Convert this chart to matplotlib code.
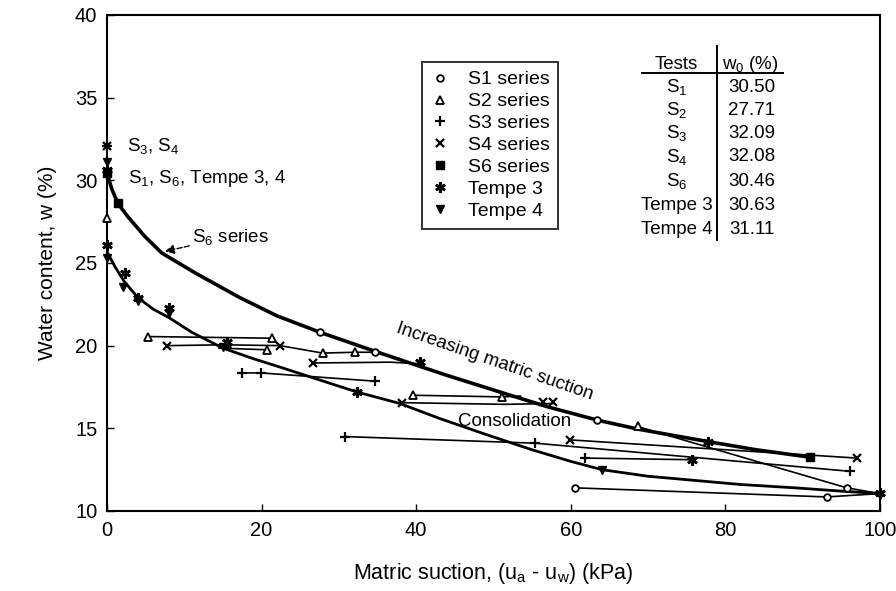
import matplotlib.pyplot as plt
from matplotlib.lines import Line2D

plt.rcParams['font.family'] = ['Liberation Sans', 'DejaVu Sans']
plt.rcParams['mathtext.fontset'] = 'custom'
plt.rcParams['mathtext.rm'] = 'Liberation Sans'
plt.rcParams['mathtext.it'] = 'Liberation Sans:italic'

# S6 drying curve (upper, heavy line)
s6_curve_x = [0, 0.6, 1.4, 2.7, 4.9, 7.1, 11.4, 17.2, 22, 27.6, 34.4, 37.9, 44, 50.8, 57, 63.4, 68.7, 77.7, 84, 91]
s6_curve_y = [30.46, 29.5, 28.6, 27.8, 26.6, 25.6, 24.4, 22.9, 21.8, 20.8, 19.7, 19.15, 18.2, 17.2, 16.3, 15.5, 14.95, 14.2, 13.7, 13.25]

# lower curve through the Tempe cell points
low_curve_x = [0, 1, 2.2, 4, 6, 8, 11, 15, 19, 22.4, 27, 32.3, 37.9, 43, 49.2, 55, 60, 64, 70, 76, 82, 89, 95, 100]
low_curve_y = [25.7, 24.8, 23.9, 22.9, 22.2, 21.7, 20.8, 19.85, 19.2, 18.7, 18.0, 17.2, 16.5, 15.6, 14.6, 13.7, 13.0, 12.5, 12.1, 11.85, 11.6, 11.4, 11.2, 11.05]

# consolidation paths (thin connecting lines)
paths = [
    ([5.3, 21.3, 22.4], [20.55, 20.45, 20.0]),
    ([7.8, 15, 22.4, 27.9, 32.1, 34.7, 38], [20.0, 20.05, 20.0, 19.55, 19.6, 19.6, 19.2]),
    ([14.5, 20.7], [19.85, 19.75]),
    ([26.6, 36.6, 40.5], [18.95, 19.0, 18.9]),
    ([17.5, 19.9, 34.7], [18.35, 18.35, 17.85]),
    ([39.6, 51.1, 53.5], [17.0, 16.9, 16.95]),
    ([38.2, 51.5, 57.7], [16.55, 16.45, 16.5]),
    ([30.8, 55.4, 96.1], [14.5, 14.1, 12.4]),
    ([59.9, 97], [14.3, 13.2]),
    ([61.8, 75.7], [13.2, 13.1]),
    ([60.5, 93.1, 100], [11.4, 10.85, 11.05]),
    ([68.7, 95.7, 100], [15.1, 11.4, 11.05]),
]

# measured points per series
s1_x = [0, 27.6, 34.7, 63.4, 60.5, 93.1, 95.7]
s1_y = [30.5, 20.8, 19.6, 15.5, 11.4, 10.85, 11.4]
s2_x = [0, 5.3, 21.3, 15.5, 20.7, 27.9, 32.1, 39.6, 51.1, 68.7]
s2_y = [27.71, 20.55, 20.45, 20.1, 19.75, 19.55, 19.6, 17.0, 16.9, 15.15]
s3_x = [0, 17.5, 19.9, 34.7, 30.8, 55.4, 96.1, 61.8]
s3_y = [32.09, 18.35, 18.35, 17.85, 14.5, 14.1, 12.4, 13.2]
s4_x = [0, 7.8, 22.4, 26.6, 38.2, 56.4, 57.7, 59.9, 97]
s4_y = [32.08, 20.0, 20.0, 18.95, 16.55, 16.6, 16.6, 14.3, 13.2]
s6_x = [0, 1.4, 91]
s6_y = [30.46, 28.6, 13.25]
t3_x = [0, 0, 2.3, 4.0, 8.0, 15.5, 32.3, 40.5, 75.7, 77.7, 100]
t3_y = [30.63, 26.1, 24.4, 22.9, 22.3, 20.25, 17.2, 19.0, 13.1, 14.2, 11.1]
t4_x = [0, 0, 2.1, 4.0, 8.0, 15.0, 64, 100]
t4_y = [31.11, 25.3, 23.55, 22.7, 22.0, 19.9, 12.45, 10.95]

table_tests = [r'S$_1$', r'S$_2$', r'S$_3$', r'S$_4$', r'S$_6$', 'Tempe 3', 'Tempe 4']
table_w0 = ['30.50', '27.71', '32.09', '32.08', '30.46', '30.63', '31.11']

fig = plt.figure(figsize=(8.96, 5.91), dpi=100)
ax = fig.add_axes([0.1194, 0.1354, 0.8627, 0.8393])

ax.plot(s6_curve_x, s6_curve_y, color='black', lw=2.6, zorder=3)
ax.plot(low_curve_x, low_curve_y, color='black', lw=2.0, zorder=3)
for px, py in paths:
    ax.plot(px, py, color='black', lw=1.2, zorder=2)

styles = [
    ('S1 series', s1_x, s1_y, dict(marker='o', ms=4.8, mfc='white', mew=1.3)),
    ('S2 series', s2_x, s2_y, dict(marker='^', ms=5.3, mfc='white', mew=1.3)),
    ('S3 series', s3_x, s3_y, dict(marker='+', ms=7.5, mew=1.6)),
    ('S4 series', s4_x, s4_y, dict(marker='x', ms=5.8, mew=1.6)),
    ('S6 series', s6_x, s6_y, dict(marker='s', ms=6.3, mfc='black')),
    ('Tempe 3', t3_x, t3_y, dict(marker=(6, 2, 0), ms=7.5, mew=1.9)),
    ('Tempe 4', t4_x, t4_y, dict(marker='v', ms=5.8, mfc='black')),
]
handles = []
for label, xs, ys, st in styles:
    ax.plot(xs, ys, ls='none', color='black', mec='black', zorder=4, clip_on=False, **st)
    handles.append(Line2D([], [], ls='none', color='black', mec='black', label=label, **st))

leg = ax.legend(handles=handles, loc='upper left', bbox_to_anchor=(0.4075, 0.905),
                borderaxespad=0, fontsize=14, frameon=True, fancybox=False,
                handlelength=1.0, handletextpad=0.9, labelspacing=0.22, borderpad=0.45)
leg.get_frame().set_edgecolor('black')
leg.get_frame().set_linewidth(1.4)

# annotations
ax.text(2.6, 32.1, r'S$_3$, S$_4$', fontsize=13.5, va='center')
ax.text(2.7, 30.1, r'S$_1$, S$_6$, Tempe 3, 4', fontsize=13.5, va='center')
ax.annotate(r'S$_6$ series', xy=(7.5, 25.7), xytext=(11.0, 26.6), fontsize=13.5, va='center',
            arrowprops=dict(arrowstyle='-|>', ls='--', color='black', lw=1, shrinkA=0, shrinkB=0))
ax.text(50.2, 19.0, 'Increasing matric suction', fontsize=13.5, rotation=-19,
        rotation_mode='anchor', ha='center', va='center')
ax.text(52.8, 15.4, 'Consolidation', fontsize=13.5, ha='center', va='center')

# w0 table
ax.text(73.7, 37.0, 'Tests', fontsize=13.5, ha='center', va='center')
ax.text(83.3, 37.0, r'w$_0$ (%)', fontsize=13.5, ha='center', va='center')
ax.plot([69.2, 87.5], [36.5, 36.5], color='black', lw=1.4)
ax.plot([78.9, 78.9], [38.1, 26.4], color='black', lw=1.4)
row_y = [35.64, 34.25, 32.86, 31.41, 29.95, 28.5, 27.05]
for name, w0, ry in zip(table_tests, table_w0, row_y):
    ax.text(73.7, ry, name, fontsize=13.5, ha='center', va='center')
    ax.text(83.4, ry, w0, fontsize=13.5, ha='center', va='center')

ax.set_xlim(0, 100)
ax.set_ylim(10, 40)
ax.set_xticks(range(0, 101, 20))
ax.set_yticks(range(10, 41, 5))
ax.tick_params(direction='in', length=5, width=1, labelsize=14.5, pad=7)
for sp in ax.spines.values():
    sp.set_linewidth(1.5)
ax.set_xlabel(r'Matric suction, (u$_\mathrm{a}$ - u$_\mathrm{w}$) (kPa)', fontsize=15.5, labelpad=15)
ax.set_ylabel('Water content, w (%)', fontsize=15, labelpad=13)

fig.savefig('out.png', dpi=100)
